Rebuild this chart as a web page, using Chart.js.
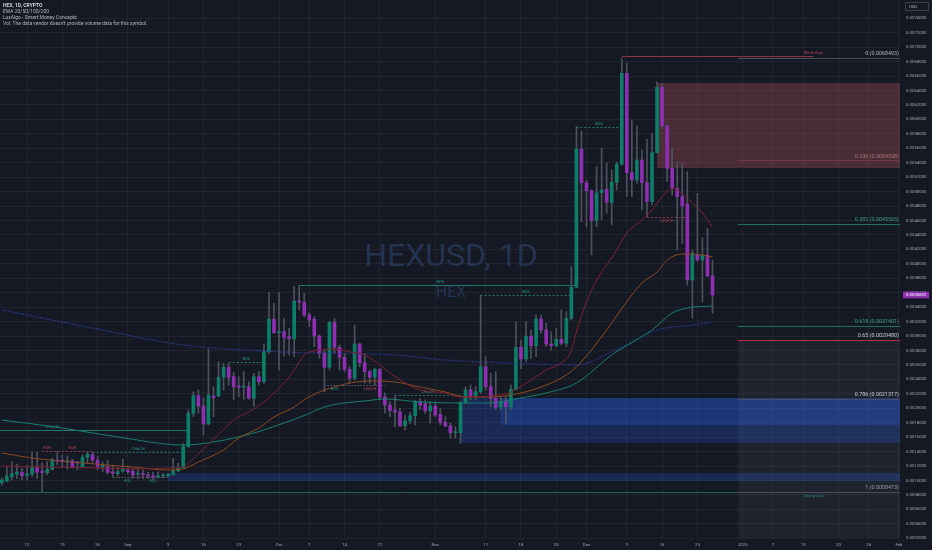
<!DOCTYPE html>
<html>
<head>
<meta charset="utf-8">
<title>HEXUSD 1D</title>
<script src="https://cdn.jsdelivr.net/npm/chart.js@4.4.1/dist/chart.umd.min.js"></script>
<style>
  html, body { margin: 0; padding: 0; background: #151923; }
  canvas { display: block; }
</style>
</head>
<body>
<canvas id="chart" width="932" height="550"></canvas>
<script>
// daily candles, first one is 2024-08-07; x unit = days since 2024-08-12
const firstDay = -5;
const opens = [
  0.000970,0.000993,0.001053,0.001087,0.001114,0.001067,0.001091,0.001178,0.001128,0.001108,
  0.001155,0.001284,0.001284,0.001257,0.001271,0.001257,0.001192,0.001322,0.001358,0.001284,
  0.001183,0.001192,0.001122,0.001095,0.001132,0.001146,0.001128,0.001087,0.001095,0.001081,
  0.001067,0.001049,0.001063,0.001067,0.001081,0.001132,0.001174,0.001469,0.001931,0.002175,
  0.002032,0.001783,0.002170,0.002170,0.002433,0.002568,0.002438,0.002309,0.002291,0.002299,
  0.002138,0.002438,0.002369,0.002784,0.003233,0.003047,0.003061,0.002992,0.002960,0.003486,
  0.003468,0.003292,0.003233,0.003001,0.002761,0.002568,0.003191,0.002844,0.002706,0.002540,
  0.002415,0.002891,0.002632,0.002507,0.002429,0.002540,0.002156,0.002046,0.001977,0.001949,
  0.001759,0.001828,0.001898,0.002092,0.002060,0.001963,0.002032,0.001917,0.001806,0.001755,
  0.001662,0.001662,0.002092,0.002254,0.002161,0.002230,0.002576,0.002299,0.002138,0.002014,
  0.002106,0.002023,0.002263,0.002844,0.002682,0.003001,0.002867,0.003237,0.003084,0.002891,
  0.002867,0.002955,0.002900,0.003246,0.003676,0.005590,0.005124,0.005013,0.004598,0.004985,
  0.005032,0.004852,0.005129,0.005378,0.006638,0.005262,0.005161,0.005438,0.005124,0.004861,
  0.005539,0.006444,0.005909,0.005323,0.005046,0.004930,0.004829,0.003777,0.004123,0.004053,
  0.004123,0.003836
];
const highs = [
  0.001035,0.001187,0.001261,0.001229,0.001169,0.001215,0.001399,0.001399,0.001247,0.001261,
  0.001308,0.001399,0.001354,0.001340,0.001294,0.001261,0.001354,0.001399,0.001386,0.001331,
  0.001261,0.001284,0.001201,0.001183,0.001294,0.001201,0.001164,0.001155,0.001146,0.001118,
  0.001118,0.001122,0.001100,0.001100,0.001308,0.001238,0.001515,0.001977,0.002230,0.002253,
  0.002143,0.002821,0.002299,0.002645,0.002623,0.002623,0.002493,0.002438,0.002507,0.002369,
  0.002484,0.002507,0.002891,0.003601,0.003454,0.003601,0.003246,0.003108,0.003684,0.003707,
  0.003592,0.003324,0.003268,0.003015,0.002807,0.003200,0.003246,0.002877,0.002761,0.002576,
  0.003153,0.002900,0.002761,0.002530,0.002554,0.002554,0.002212,0.002092,0.002184,0.002000,
  0.001907,0.001944,0.002115,0.002138,0.002115,0.002092,0.002092,0.002000,0.001884,0.001792,
  0.001745,0.002092,0.002299,0.002323,0.002299,0.003569,0.002714,0.002484,0.002507,0.002161,
  0.002161,0.002323,0.003200,0.002946,0.003200,0.003084,0.003292,0.003292,0.003177,0.003061,
  0.003108,0.003361,0.003338,0.003961,0.005899,0.005840,0.005161,0.005023,0.005345,0.005600,
  0.005401,0.005300,0.005414,0.0068493,0.006777,0.005992,0.005909,0.005577,0.005725,0.005808,
  0.006522,0.006500,0.005923,0.005600,0.005414,0.005392,0.005276,0.004192,0.004977,0.004362,
  0.004492,0.004053
];
const lows = [
  0.000938,0.000980,0.001007,0.001025,0.001007,0.001007,0.001053,0.001030,0.0008473,0.001077,
  0.001146,0.001215,0.001183,0.001155,0.001169,0.001146,0.001183,0.001238,0.001238,0.001146,
  0.001122,0.001091,0.001053,0.001063,0.001114,0.001091,0.001030,0.001021,0.001021,0.001025,
  0.001017,0.001030,0.001044,0.001053,0.001077,0.001122,0.001169,0.001460,0.001884,0.001930,
  0.001630,0.001769,0.001884,0.002161,0.002253,0.002323,0.002115,0.002161,0.002124,0.002129,
  0.002022,0.002323,0.002346,0.002761,0.003039,0.002530,0.002724,0.002738,0.002714,0.003361,
  0.003268,0.003130,0.002853,0.002692,0.002230,0.002530,0.002761,0.002530,0.002507,0.002346,
  0.002392,0.002576,0.002346,0.002346,0.002323,0.002115,0.001931,0.001884,0.001745,0.001745,
  0.001700,0.001792,0.001769,0.001977,0.001931,0.001792,0.001884,0.001769,0.001745,0.001584,
  0.001584,0.001515,0.002069,0.002115,0.002115,0.002207,0.002254,0.002022,0.001977,0.001977,
  0.001792,0.001977,0.002254,0.002554,0.002645,0.002692,0.002714,0.003039,0.002853,0.002807,
  0.002853,0.002877,0.002853,0.003223,0.003666,0.004584,0.004514,0.004123,0.004514,0.004607,
  0.004700,0.004538,0.005023,0.005369,0.004930,0.004930,0.005116,0.004746,0.004653,0.004815,
  0.005531,0.005877,0.005138,0.004953,0.004192,0.004285,0.003707,0.003246,0.004040,0.003476,
  0.003822,0.003315
];
const closes = [
  0.001007,0.001063,0.001095,0.001118,0.001067,0.001095,0.001178,0.001114,0.001108,0.001155,
  0.001284,0.001266,0.001261,0.001275,0.001192,0.001243,0.001322,0.001363,0.001284,0.001192,
  0.001206,0.001114,0.001100,0.001122,0.001155,0.001122,0.001077,0.001100,0.001077,0.001063,
  0.001039,0.001067,0.001077,0.001087,0.001132,0.001174,0.001469,0.001931,0.002175,0.002032,
  0.001783,0.002185,0.002147,0.002429,0.002568,0.002429,0.002299,0.002291,0.002309,0.002138,
  0.002438,0.002369,0.002784,0.003233,0.003047,0.003061,0.002983,0.002964,0.003486,0.003468,
  0.003292,0.003223,0.003001,0.002761,0.002568,0.003191,0.002844,0.002706,0.002540,0.002415,
  0.002891,0.002632,0.002507,0.002429,0.002540,0.002152,0.002046,0.001967,0.001949,0.001759,
  0.001828,0.001898,0.002092,0.002046,0.001963,0.002032,0.001907,0.001806,0.001755,0.001662,
  0.001672,0.002083,0.002254,0.002161,0.002230,0.002576,0.002299,0.002138,0.002014,0.002092,
  0.002023,0.002263,0.002844,0.002682,0.003001,0.002867,0.003237,0.003084,0.002891,0.002867,
  0.002955,0.002900,0.003246,0.003676,0.005590,0.005124,0.005013,0.004598,0.004985,0.005023,
  0.004852,0.005129,0.005378,0.006638,0.005262,0.005161,0.005438,0.005124,0.004861,0.005539,
  0.006444,0.005909,0.005323,0.005046,0.004930,0.004801,0.003777,0.004146,0.004053,0.004123,
  0.003832,0.0035692
];

// EMAs at a few days
const ema20Days   = [-5, 5, 14, 22, 28, 31, 33, 35, 38, 41, 44, 47, 51, 53, 55, 57, 61, 64, 67, 70, 73, 78, 83, 86, 92, 96, 100, 103, 106, 108, 109, 112, 117, 119, 122, 124, 126, 128, 129, 132, 134, 136];
const ema20Values = [0.001201,0.001187,0.001174,0.001160,0.001174,0.001190,0.001300,0.001440,0.001640,0.001838,0.001949,0.002088,0.002350,0.002530,0.002738,0.002794,0.002821,0.002780,0.002738,0.002600,0.002440,0.002254,0.002212,0.002157,0.002170,0.002226,0.002392,0.002530,0.002627,0.002800,0.003056,0.003638,0.004192,0.004428,0.004607,0.004746,0.004926,0.005050,0.005023,0.004842,0.004704,0.004510];
const ema50Days   = [-5, 1, 11, 21, 28, 31, 34, 39, 42, 46, 49, 53, 55, 58, 61, 64, 68, 73, 78, 83, 87, 92, 98, 102, 106, 109, 115, 118, 122, 125, 127, 130, 132, 136];
const ema50Values = [0.001381,0.001312,0.001243,0.001187,0.001146,0.001160,0.001257,0.001423,0.001589,0.001727,0.001880,0.002018,0.002120,0.002226,0.002295,0.002350,0.002378,0.002364,0.002295,0.002226,0.002157,0.002157,0.002212,0.002295,0.002420,0.002572,0.003084,0.003380,0.003735,0.003887,0.004053,0.004136,0.004136,0.004095];
const ema100Days   = [-5, 7, 18, 31, 37, 45, 51, 55, 59, 63, 67, 71, 78, 85, 92, 98, 103, 109, 116, 124, 128, 131, 136];
const ema100Values = [0.001838,0.001727,0.001603,0.001492,0.001534,0.001658,0.001797,0.001900,0.002018,0.002074,0.002101,0.002129,0.002088,0.002074,0.002074,0.002143,0.002212,0.002350,0.002738,0.003084,0.003320,0.003389,0.003417];
const ema200Days   = [-5, 13, 31, 51, 73, 83, 96, 109, 116, 125, 132, 136];
const ema200Values = [0.003361,0.003112,0.002877,0.002780,0.002738,0.002669,0.002627,0.002600,0.002780,0.003084,0.003153,0.003195];

// x axis ticks (days since 2024-08-12) and their labels
const tickDays   = [0, 7, 14, 20, 28, 35, 42, 50, 56, 63, 70, 81, 91, 98, 105, 111, 119, 126, 133, 142, 148, 154, 161, 167, 173];
const tickLabels = ['12','19','26','Sep','9','16','23','Oct','7','14','21','Nov','11','18','25','Dec','9','16','23','2025','7','13','20','26','Feb'];

// fibonacci retracement
const fibLevels = ['0', '0.236', '0.382', '0.618', '0.65', '0.786', '1'];
const fibPrices = [0.0068493, 0.0054328, 0.0045565, 0.0031401, 0.0029480, 0.0021317, 0.0008473];
const fibStart = 141;

// order blocks / zones: [fromDay, topPrice, bottomPrice]
const bearishBlocks = [[125, 0.006504, 0.005327]];
const bullishBlocks = [[86, 0.002143, 0.001520], [94, 0.002143, 0.001769], [28, 0.001104, 0.000994]];
const discountZone = [141, 0.0029480];

// structure lines: [fromDay, toDay, price]
const bullSolid  = [[54, 109, 0.003707], [-5.4, 32, 0.001700]];
const bullDashed = [[90, 108, 0.003569], [109, 118, 0.005899], [40, 47, 0.002641], [73, 86, 0.002184], [13, 31, 0.001399]];
const bearDashed = [[123, 131, 0.004653], [3, 13, 0.001409]];
const grayDashed = [[59, 71, 0.002323], [17, 28, 0.001049]];
const weakHigh   = [118, 156, 0.0068493];
const strongLow  = [-5.4, 156, 0.0008473];

// structure labels: [day, price, text, 'up'|'down']
const bullLabels = [[82, 0.003707, 'BOS', 'up'], [5, 0.001700, 'CHoCH', 'up'], [99, 0.003569, 'BOS', 'up'], [113.5, 0.005899, 'BOS', 'up'],
  [43.5, 0.002641, 'BOS', 'up'], [79.5, 0.002184, 'CHoCH', 'up'], [22, 0.001399, 'CHoCH', 'up'], [61, 0.002323, 'BOS', 'down'],
  [20, 0.001049, 'EQL', 'down'], [25, 0.001049, 'EQL', 'down']];
const bearLabels = [[127, 0.004653, 'CHoCH', 'down'], [68, 0.002323, 'CHoCH', 'down'], [4, 0.001409, 'EQH', 'up'], [9, 0.001409, 'EQH', 'up']];

const lastPrice = 0.0035692;

const GREEN = '#0e7d68';
const PURPLE = '#8e2fb3';
const WICK = '#4d525e';
const TEAL = '#1f7a6a';
const RED = '#8c3444';
const GRID = 'rgba(54, 58, 69, 0.35)';
const AXIS_TEXT = '#a3a6af';
const FONT = 'Roboto, "Liberation Sans", sans-serif';

const days = opens.map((_, i) => firstDay + i);
const bodyColors = opens.map((o, i) => (closes[i] >= o ? GREEN : PURPLE));

Chart.defaults.font.family = FONT;

function hline(ctx, chart, from, to, price, color, dash, width) {
  const x = chart.scales.x, y = chart.scales.y;
  const yy = Math.round(y.getPixelForValue(price)) + 0.5;
  ctx.save();
  ctx.strokeStyle = color;
  ctx.lineWidth = width || 1;
  ctx.setLineDash(dash || []);
  ctx.beginPath();
  ctx.moveTo(x.getPixelForValue(from), yy);
  ctx.lineTo(x.getPixelForValue(to), yy);
  ctx.stroke();
  ctx.restore();
}

function tag(ctx, chart, item, color) {
  const [d, p, text, side] = item;
  const xx = chart.scales.x.getPixelForValue(d);
  const yy = chart.scales.y.getPixelForValue(p);
  ctx.fillStyle = color;
  ctx.font = '4px ' + FONT;
  ctx.textAlign = 'center';
  ctx.textBaseline = side === 'up' ? 'bottom' : 'top';
  ctx.fillText(text, xx, side === 'up' ? yy - 1 : yy + 2);
}

function zone(ctx, chart, from, top, bottom, color) {
  const x = chart.scales.x, y = chart.scales.y;
  const x0 = x.getPixelForValue(from), x1 = x.getPixelForValue(x.max);
  const y0 = y.getPixelForValue(top), y1 = y.getPixelForValue(bottom);
  ctx.fillStyle = color;
  ctx.fillRect(x0, y0, x1 - x0, y1 - y0);
}

const smcPlugin = {
  id: 'smc',
  beforeDraw(chart) {
    const ctx = chart.ctx;
    ctx.save();
    ctx.fillStyle = '#151923';
    ctx.fillRect(0, 0, chart.width, chart.height);
    ctx.restore();
  },
  beforeDatasetsDraw(chart) {
    const ctx = chart.ctx, a = chart.chartArea;
    const x = chart.scales.x, y = chart.scales.y;
    ctx.save();
    ctx.beginPath();
    ctx.rect(a.left, a.top, a.right - a.left, a.bottom - a.top);
    ctx.clip();

    // watermark
    ctx.fillStyle = '#243352';
    ctx.textAlign = 'center';
    ctx.textBaseline = 'alphabetic';
    ctx.font = '32px ' + FONT;
    ctx.fillText('HEXUSD, 1D', 451, 266);
    ctx.font = '16px ' + FONT;
    ctx.fillText('HEX', 451, 297);

    // zones
    zone(ctx, chart, discountZone[0], discountZone[1], y.min, 'rgba(120, 123, 134, 0.10)');
    bearishBlocks.forEach(b => zone(ctx, chart, b[0], b[1], b[2], 'rgba(180, 85, 95, 0.33)'));
    bullishBlocks.forEach(b => zone(ctx, chart, b[0], b[1], b[2], 'rgba(41, 98, 255, 0.22)'));

    // structure
    bullSolid.forEach(l => hline(ctx, chart, l[0], l[1], l[2], TEAL));
    bullDashed.forEach(l => hline(ctx, chart, l[0], l[1], l[2], TEAL, [2, 2]));
    bearDashed.forEach(l => hline(ctx, chart, l[0], l[1], l[2], RED, [2, 2]));
    grayDashed.forEach(l => hline(ctx, chart, l[0], l[1], l[2], '#5d6170', [1.5, 1.5]));
    hline(ctx, chart, strongLow[0], strongLow[1], strongLow[2], '#245e58');
    bullLabels.forEach(l => tag(ctx, chart, l, '#2a9683'));
    bearLabels.forEach(l => tag(ctx, chart, l, '#b0414f'));
    tag(ctx, chart, [strongLow[1], strongLow[2], 'Strong Low', 'down'], '#2a9683');

    // fibonacci
    const fibLine = ['#4a4e5a', '#6e3a44', '#1f6f62', '#1f6f62', '#b2323f', '#4a4e5a', '#4a4e5a'];
    const fibText = ['#b2b5be', '#b0787f', '#3a9a86', '#3a9a86', '#c8cad0', '#c8cad0', '#9598a1'];
    fibPrices.forEach((p, i) => {
      hline(ctx, chart, fibStart, x.max, p, fibLine[i]);
      ctx.fillStyle = fibText[i];
      ctx.font = '5.4px ' + FONT;
      ctx.textAlign = 'right';
      ctx.textBaseline = 'bottom';
      ctx.fillText(fibLevels[i] + ' (' + p.toFixed(7) + ')', a.right - 1, y.getPixelForValue(p) - 1.5);
    });
    // weak high sits just above the 0 level
    const whY = y.getPixelForValue(weakHigh[2]) - 2;
    ctx.strokeStyle = RED;
    ctx.lineWidth = 1;
    ctx.beginPath();
    ctx.moveTo(x.getPixelForValue(weakHigh[0]), Math.round(whY) + 0.5);
    ctx.lineTo(x.getPixelForValue(weakHigh[1]), Math.round(whY) + 0.5);
    ctx.stroke();
    ctx.fillStyle = '#b0414f';
    ctx.font = '4px ' + FONT;
    ctx.textAlign = 'center';
    ctx.textBaseline = 'bottom';
    ctx.fillText('Weak High', x.getPixelForValue(weakHigh[1]), whY - 1.5);
    ctx.restore();
  },
  afterDraw(chart) {
    const ctx = chart.ctx, a = chart.chartArea, y = chart.scales.y;
    ctx.save();
    // legend block
    ctx.textAlign = 'left';
    ctx.textBaseline = 'middle';
    ctx.fillStyle = '#d1d4dc';
    ctx.font = 'bold 5px ' + FONT;
    ctx.fillText('HEX, 1D, CRYPTO', 3, 5.7);
    ctx.fillStyle = '#b2b5be';
    ctx.font = '5px ' + FONT;
    ctx.fillText('EMA 20/50/100/200', 3, 11.7);
    ctx.fillText('LuxAlgo - Smart Money Concepts', 3, 17.5);
    ctx.fillText('Vol: The data vendor doesn\'t provide volume data for this symbol.', 3, 23.8);

    // currency box
    ctx.strokeStyle = '#3a3e4a';
    ctx.lineWidth = 1;
    ctx.strokeRect(905.5, 2.5, 23, 8);
    ctx.fillStyle = '#b2b5be';
    ctx.font = '4.3px ' + FONT;
    ctx.fillText('USD', 909, 6.7);

    // last price badge
    const yy = y.getPixelForValue(lastPrice);
    ctx.fillStyle = PURPLE;
    ctx.fillRect(a.right + 3, yy - 3.3, 26, 6.6);
    ctx.fillStyle = '#ffffff';
    ctx.font = '4.3px ' + FONT;
    ctx.fillText(lastPrice.toFixed(7), a.right + 6, yy + 0.2);
    ctx.restore();
  }
};

new Chart(document.getElementById('chart'), {
  type: 'bar',
  data: {
    datasets: [
      { label: 'EMA 20', type: 'line', data: ema20Days.map((d, i) => ({ x: d, y: ema20Values[i] })),
        borderColor: '#7c2130', borderWidth: 1, pointRadius: 0, cubicInterpolationMode: 'monotone', order: 1 },
      { label: 'EMA 50', type: 'line', data: ema50Days.map((d, i) => ({ x: d, y: ema50Values[i] })),
        borderColor: '#8a4a1e', borderWidth: 1, pointRadius: 0, cubicInterpolationMode: 'monotone', order: 1 },
      { label: 'EMA 100', type: 'line', data: ema100Days.map((d, i) => ({ x: d, y: ema100Values[i] })),
        borderColor: '#15806e', borderWidth: 1, pointRadius: 0, cubicInterpolationMode: 'monotone', order: 1 },
      { label: 'EMA 200', type: 'line', data: ema200Days.map((d, i) => ({ x: d, y: ema200Values[i] })),
        borderColor: '#2b3c9c', borderWidth: 1.2, borderDash: [1.5, 1.5], pointRadius: 0, cubicInterpolationMode: 'monotone', order: 1 },
      { label: 'Body', data: days.map((d, i) => ({ x: d, y: [opens[i], closes[i]] })),
        backgroundColor: bodyColors, barThickness: 3, minBarLength: 1, grouped: false, order: 2 },
      { label: 'Wick', data: days.map((d, i) => ({ x: d, y: [lows[i], highs[i]] })),
        backgroundColor: WICK, barThickness: 1, grouped: false, order: 3 }
    ]
  },
  options: {
    responsive: false,
    animation: false,
    events: [],
    layout: { padding: 0 },
    plugins: { legend: { display: false }, tooltip: { enabled: false } },
    scales: {
      x: {
        type: 'linear', min: -5.36, max: 173.2, offset: false,
        grid: { color: GRID, offset: false, drawTicks: false },
        border: { display: false },
        afterBuildTicks(s) { s.ticks = tickDays.map(v => ({ value: v })); },
        afterFit(s) { s.height = 12; s.paddingLeft = 0; s.paddingRight = 0; },
        ticks: { autoSkip: false, maxRotation: 0, padding: 4, color: AXIS_TEXT, font: { size: 4.3 },
          callback: (v, i) => tickLabels[i] }
      },
      y: {
        position: 'right', min: 0.0002043, max: 0.0076534,
        grid: { color: GRID, drawTicks: false },
        border: { display: false },
        afterBuildTicks(s) {
          const t = [];
          for (let k = 1; k <= 37; k++) t.push({ value: k * 0.0002 });
          s.ticks = t;
        },
        afterFit(s) { s.width = 32; s.paddingTop = 0; s.paddingBottom = 0; },
        ticks: { padding: 6, color: AXIS_TEXT, font: { size: 4.3 }, callback: v => v.toFixed(7) }
      }
    }
  },
  plugins: [smcPlugin]
});
</script>
</body>
</html>
